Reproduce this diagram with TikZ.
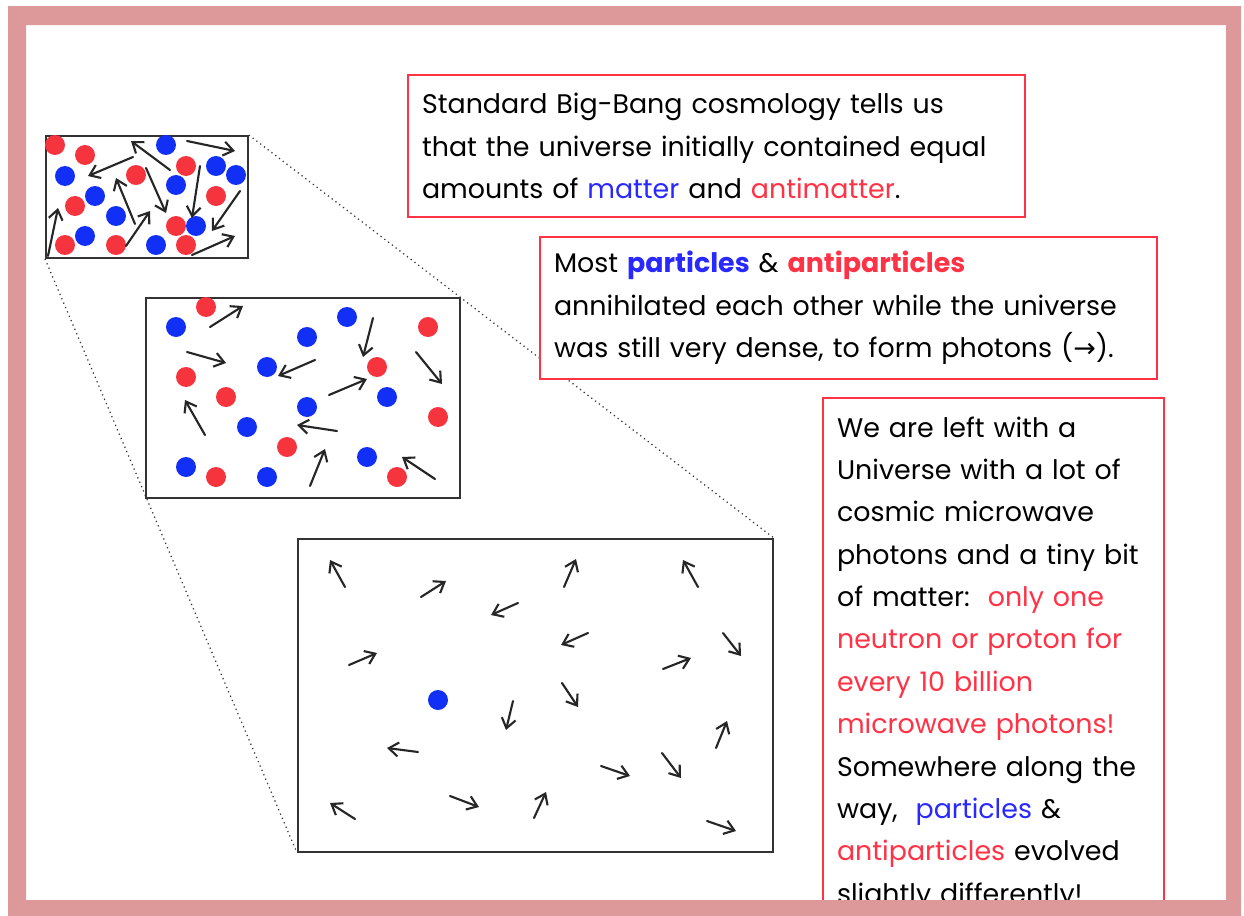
\documentclass[tikz,border=0pt]{standalone}
\usepackage{fontspec}
\setmainfont{Poppins}
\newfontfamily\symfont{DejaVu Sans}
\usepackage{xcolor}
\definecolor{framepink}{RGB}{221,153,153}
\definecolor{boxred}{RGB}{255,51,68}
\definecolor{dotred}{RGB}{245,52,62}
\definecolor{dotblue}{RGB}{18,48,245}
\definecolor{txtblue}{RGB}{40,40,255}
\definecolor{txtred}{RGB}{255,50,70}
\usetikzlibrary{arrows.meta,positioning}

\begin{document}
\begin{tikzpicture}[x=0.02cm, y=-0.02cm,
  textbox/.style={rectangle, draw=boxred, line width=1.2pt, fill=white, anchor=north west, align=left, inner xsep=0.28cm, inner ysep=0pt, font=\fontsize{15.3}{24.1}\selectfont},
  panel/.style={rectangle, draw=black!80, line width=1.1pt, fill=white, anchor=north west, inner sep=0pt},
  photon/.style={-{Straight Barb[length=5.5pt,width=8pt]}, line width=1.2pt, black!85, line cap=round},
  zoomline/.style={dotted, black!80, line width=0.7pt}
]
  \useasboundingbox (0,0) rectangle (1244,916);

  % the three views, zooming out
  \node[panel, minimum width=4.04cm, minimum height=2.44cm] (early) at (45,135) {};
  \node[panel, minimum width=9.5cm, minimum height=6.26cm] (late) at (297,538) {};
  \draw[zoomline] (early.north east) -- (late.north east);
  \draw[zoomline] (early.south west) -- (late.south west);
  \node[panel, minimum width=6.28cm, minimum height=4cm] (middle) at (145,297) {};

  % early universe: dense soup
  \foreach \x/\y in {55/145,85/155,75/206,65/245,116/245,136/175,186/166,216/196,176/226,186/245}
    \fill[dotred] (\x,\y) circle (0.2cm);
  \foreach \x/\y in {65/176,95/196,85/236,116/216,166/145,176/185,216/166,236/175,196/226,156/245}
    \fill[dotblue] (\x,\y) circle (0.2cm);
  \foreach \a/\b/\c/\d in {48/256/58/208, 170/170/131/141, 133/157/88/176, 187/141/235/151,
                           146/168/166/213, 135/224/116/178, 126/246/150/211, 200/166/192/218,
                           240/191/212/231, 192/255/235/236}
    \draw[photon] (\a,\b) -- (\c,\d);

  % annihilation
  \foreach \x/\y in {206/307,428/327,186/377,377/367,226/397,438/417,287/447,216/477,397/477}
    \fill[dotred] (\x,\y) circle (0.2cm);
  \foreach \x/\y in {176/327,307/337,347/317,267/367,307/407,387/397,247/427,367/457,186/467,267/477}
    \fill[dotblue] (\x,\y) circle (0.2cm);
  \foreach \a/\b/\c/\d in {210/327/243/306, 187/352/226/363, 315/360/278/376, 373/318/363/357,
                           416/352/442/384, 329/395/367/379, 205/435/185/400, 337/431/297/425,
                           310/486/325/449, 435/479/402/457}
    \draw[photon] (\a,\b) -- (\c,\d);

  % today: photons and a tiny bit of matter
  \fill[dotblue] (438,700) circle (0.2cm);
  \foreach \a/\b/\c/\d in {345/587/330/560, 421/597/446/581, 518/603/491/615, 349/665/377/653,
                           564/587/576/559, 698/587/683/560, 588/633/561/645, 723/633/741/656,
                           663/669/691/658, 562/683/578/707, 513/701/506/730, 418/752/387/748,
                           601/766/630/776, 662/753/681/778, 716/748/727/721, 355/819/330/803,
                           450/796/479/807, 534/818/546/792, 707/821/736/831}
    \draw[photon] (\a,\b) -- (\c,\d);

  % text boxes
  \node[textbox, minimum width=12.34cm, minimum height=2.84cm, text width=11.78cm] (bigbang) at (407,74)
    {Standard Big-Bang cosmology tells us\\
     that the universe initially contained equal\\
     amounts of {\color{txtblue}matter} and {\color{txtred}antimatter}.};
  \node[textbox, minimum width=12.34cm, minimum height=2.84cm, text width=11.78cm] (annihil) at (539,236)
    {Most {\bfseries\color{txtblue}particles} \& {\bfseries\color{txtred}antiparticles}\\
     annihilated each other while the universe\\
     was still very dense, to form photons ({\symfont →}).};
  \node[textbox, minimum width=6.82cm, minimum height=10.62cm, text width=6.26cm] (leftover) at (822,397)
    {We are left with a\\
     Universe with a lot of\\
     cosmic microwave\\
     photons and a tiny bit\\
     of matter:\ \ {\color{txtred}only one}\\
     {\color{txtred}neutron or proton for}\\
     {\color{txtred}every 10 billion}\\
     {\color{txtred}microwave photons!}\\
     Somewhere along the\\
     way,\ \ {\color{txtblue}particles} \&\\
     {\color{txtred}antiparticles} evolved\\
     slightly differently!};

  % slide frame
  \fill[framepink, even odd rule] (8,6) rectangle (1241,916) (26,25) rectangle (1226,900);
\end{tikzpicture}
\end{document}
